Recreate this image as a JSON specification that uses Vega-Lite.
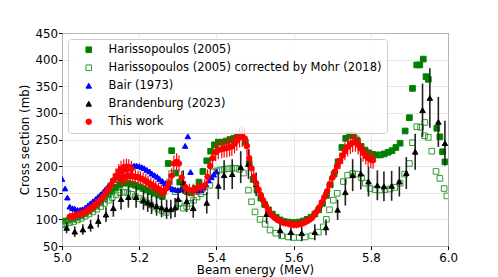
{
"$schema":"https://vega.github.io/schema/vega-lite/v6.json",
"width":386,"height":213,
"autosize":"none",
"padding":{"left":62,"top":33,"right":50,"bottom":31},
"config":{"font":"DejaVu Sans","view":{"stroke":"black","strokeWidth":1},
"axis":{"grid":true,"gridColor":"#e2e2e2","gridWidth":0.8,"domain":false,"tickColor":"black","tickSize":3.5,"labelFontSize":11.8,"labelColor":"black","titleFontSize":11.8,"titleFontWeight":"normal","titleColor":"black","labelPadding":1,"labelFlush":false}},
"data":{"values":[
{"series":"H","E":5.010,"sigma":97},{"series":"H","E":5.020,"sigma":99},{"series":"H","E":5.030,"sigma":101},{"series":"H","E":5.040,"sigma":104},{"series":"H","E":5.050,"sigma":107},{"series":"H","E":5.060,"sigma":111},{"series":"H","E":5.070,"sigma":116},{"series":"H","E":5.080,"sigma":121},{"series":"H","E":5.090,"sigma":126},{"series":"H","E":5.100,"sigma":132},{"series":"H","E":5.110,"sigma":139},{"series":"H","E":5.120,"sigma":146},{"series":"H","E":5.130,"sigma":153},{"series":"H","E":5.140,"sigma":160},{"series":"H","E":5.150,"sigma":165},{"series":"H","E":5.160,"sigma":168},{"series":"H","E":5.170,"sigma":168},{"series":"H","E":5.180,"sigma":166},{"series":"H","E":5.190,"sigma":164},{"series":"H","E":5.200,"sigma":161},{"series":"H","E":5.210,"sigma":158},{"series":"H","E":5.220,"sigma":155},{"series":"H","E":5.230,"sigma":152},{"series":"H","E":5.240,"sigma":149},{"series":"H","E":5.250,"sigma":146},{"series":"H","E":5.260,"sigma":143},{"series":"H","E":5.275,"sigma":205},{"series":"H","E":5.284,"sigma":229},{"series":"H","E":5.295,"sigma":187},{"series":"H","E":5.305,"sigma":170},{"series":"H","E":5.315,"sigma":160},{"series":"H","E":5.325,"sigma":152},{"series":"H","E":5.335,"sigma":150},{"series":"H","E":5.345,"sigma":158},{"series":"H","E":5.355,"sigma":170},{"series":"H","E":5.365,"sigma":190},{"series":"H","E":5.375,"sigma":210},{"series":"H","E":5.385,"sigma":228},{"series":"H","E":5.395,"sigma":240},{"series":"H","E":5.405,"sigma":245},{"series":"H","E":5.415,"sigma":245},{"series":"H","E":5.425,"sigma":247},{"series":"H","E":5.435,"sigma":250},{"series":"H","E":5.445,"sigma":252},{"series":"H","E":5.455,"sigma":254},{"series":"H","E":5.465,"sigma":257},{"series":"H","E":5.475,"sigma":245},{"series":"H","E":5.485,"sigma":205},{"series":"H","E":5.495,"sigma":175},{"series":"H","E":5.505,"sigma":155},{"series":"H","E":5.515,"sigma":140},{"series":"H","E":5.525,"sigma":128},{"series":"H","E":5.535,"sigma":118},{"series":"H","E":5.545,"sigma":110},{"series":"H","E":5.555,"sigma":104},{"series":"H","E":5.565,"sigma":99},{"series":"H","E":5.575,"sigma":96},{"series":"H","E":5.585,"sigma":95},{"series":"H","E":5.595,"sigma":94},{"series":"H","E":5.605,"sigma":94},{"series":"H","E":5.615,"sigma":95},{"series":"H","E":5.625,"sigma":97},{"series":"H","E":5.635,"sigma":100},{"series":"H","E":5.645,"sigma":104},{"series":"H","E":5.655,"sigma":110},{"series":"H","E":5.665,"sigma":118},{"series":"H","E":5.675,"sigma":130},{"series":"H","E":5.685,"sigma":145},{"series":"H","E":5.695,"sigma":165},{"series":"H","E":5.705,"sigma":185},{"series":"H","E":5.715,"sigma":208},{"series":"H","E":5.725,"sigma":235},{"series":"H","E":5.735,"sigma":252},{"series":"H","E":5.745,"sigma":258},{"series":"H","E":5.755,"sigma":257},{"series":"H","E":5.765,"sigma":248},{"series":"H","E":5.775,"sigma":237},{"series":"H","E":5.785,"sigma":230},{"series":"H","E":5.795,"sigma":225},{"series":"H","E":5.805,"sigma":222},{"series":"H","E":5.815,"sigma":221},{"series":"H","E":5.825,"sigma":221},{"series":"H","E":5.835,"sigma":223},{"series":"H","E":5.845,"sigma":226},{"series":"H","E":5.855,"sigma":229},{"series":"H","E":5.865,"sigma":235},{"series":"H","E":5.876,"sigma":243},{"series":"H","E":5.889,"sigma":266},{"series":"H","E":5.900,"sigma":291},{"series":"H","E":5.908,"sigma":346},{"series":"H","E":5.919,"sigma":390},{"series":"H","E":5.927,"sigma":390},{"series":"H","E":5.936,"sigma":401},{"series":"H","E":5.943,"sigma":368},{"series":"H","E":5.949,"sigma":363},{"series":"H","E":5.971,"sigma":271},{"series":"H","E":5.979,"sigma":255},{"series":"H","E":5.986,"sigma":227},{"series":"H","E":5.992,"sigma":208},
{"series":"HC","E":5.000,"sigma":90},{"series":"HC","E":5.010,"sigma":92},{"series":"HC","E":5.020,"sigma":94},{"series":"HC","E":5.030,"sigma":96},{"series":"HC","E":5.040,"sigma":99},{"series":"HC","E":5.050,"sigma":102},{"series":"HC","E":5.060,"sigma":106},{"series":"HC","E":5.070,"sigma":110},{"series":"HC","E":5.080,"sigma":114},{"series":"HC","E":5.090,"sigma":119},{"series":"HC","E":5.100,"sigma":124},{"series":"HC","E":5.110,"sigma":130},{"series":"HC","E":5.120,"sigma":136},{"series":"HC","E":5.130,"sigma":141},{"series":"HC","E":5.140,"sigma":146},{"series":"HC","E":5.150,"sigma":150},{"series":"HC","E":5.160,"sigma":151},{"series":"HC","E":5.170,"sigma":150},{"series":"HC","E":5.180,"sigma":147},{"series":"HC","E":5.190,"sigma":143},{"series":"HC","E":5.200,"sigma":139},{"series":"HC","E":5.210,"sigma":135},{"series":"HC","E":5.220,"sigma":131},{"series":"HC","E":5.230,"sigma":127},{"series":"HC","E":5.240,"sigma":123},{"series":"HC","E":5.250,"sigma":119},{"series":"HC","E":5.260,"sigma":116},{"series":"HC","E":5.270,"sigma":113},{"series":"HC","E":5.278,"sigma":170},{"series":"HC","E":5.284,"sigma":186},{"series":"HC","E":5.293,"sigma":152},{"series":"HC","E":5.304,"sigma":130},{"series":"HC","E":5.314,"sigma":121},{"series":"HC","E":5.323,"sigma":124},{"series":"HC","E":5.332,"sigma":130},{"series":"HC","E":5.341,"sigma":136},{"series":"HC","E":5.350,"sigma":142},{"series":"HC","E":5.360,"sigma":148},{"series":"HC","E":5.370,"sigma":152},{"series":"HC","E":5.383,"sigma":164},{"series":"HC","E":5.392,"sigma":189},{"series":"HC","E":5.401,"sigma":191},{"series":"HC","E":5.410,"sigma":193},{"series":"HC","E":5.420,"sigma":194},{"series":"HC","E":5.430,"sigma":195},{"series":"HC","E":5.440,"sigma":196},{"series":"HC","E":5.450,"sigma":196},{"series":"HC","E":5.460,"sigma":194},{"series":"HC","E":5.470,"sigma":187},{"series":"HC","E":5.483,"sigma":155},{"series":"HC","E":5.491,"sigma":133},{"series":"HC","E":5.500,"sigma":114},{"series":"HC","E":5.513,"sigma":100},{"series":"HC","E":5.526,"sigma":91},{"series":"HC","E":5.539,"sigma":80},{"series":"HC","E":5.554,"sigma":74},{"series":"HC","E":5.569,"sigma":69},{"series":"HC","E":5.586,"sigma":67},{"series":"HC","E":5.600,"sigma":66},{"series":"HC","E":5.615,"sigma":66},{"series":"HC","E":5.630,"sigma":67},{"series":"HC","E":5.647,"sigma":69},{"series":"HC","E":5.664,"sigma":76},{"series":"HC","E":5.677,"sigma":86},{"series":"HC","E":5.685,"sigma":100},{"series":"HC","E":5.693,"sigma":118},{"series":"HC","E":5.703,"sigma":136},{"series":"HC","E":5.713,"sigma":149},{"series":"HC","E":5.729,"sigma":171},{"series":"HC","E":5.740,"sigma":183},{"series":"HC","E":5.753,"sigma":186},{"series":"HC","E":5.766,"sigma":185},{"series":"HC","E":5.776,"sigma":178},{"series":"HC","E":5.786,"sigma":168},{"series":"HC","E":5.798,"sigma":158},{"series":"HC","E":5.811,"sigma":156},{"series":"HC","E":5.824,"sigma":155},{"series":"HC","E":5.837,"sigma":156},{"series":"HC","E":5.850,"sigma":157},{"series":"HC","E":5.862,"sigma":160},{"series":"HC","E":5.876,"sigma":168},{"series":"HC","E":5.888,"sigma":185},{"series":"HC","E":5.900,"sigma":205},{"series":"HC","E":5.908,"sigma":244},{"series":"HC","E":5.919,"sigma":274},{"series":"HC","E":5.929,"sigma":273},{"series":"HC","E":5.940,"sigma":282},{"series":"HC","E":5.939,"sigma":257},{"series":"HC","E":5.949,"sigma":254},{"series":"HC","E":5.958,"sigma":228},{"series":"HC","E":5.969,"sigma":190},{"series":"HC","E":5.979,"sigma":177},{"series":"HC","E":5.990,"sigma":158},{"series":"HC","E":5.997,"sigma":144},
{"series":"B","E":5.000,"sigma":176},{"series":"B","E":5.008,"sigma":158},{"series":"B","E":5.014,"sigma":141},{"series":"B","E":5.020,"sigma":124},{"series":"B","E":5.027,"sigma":121},{"series":"B","E":5.033,"sigma":120},{"series":"B","E":5.040,"sigma":118},{"series":"B","E":5.047,"sigma":118},{"series":"B","E":5.053,"sigma":119},{"series":"B","E":5.060,"sigma":122},{"series":"B","E":5.067,"sigma":126},{"series":"B","E":5.073,"sigma":130},{"series":"B","E":5.080,"sigma":134},{"series":"B","E":5.087,"sigma":138},{"series":"B","E":5.093,"sigma":142},{"series":"B","E":5.100,"sigma":147},{"series":"B","E":5.107,"sigma":152},{"series":"B","E":5.113,"sigma":157},{"series":"B","E":5.120,"sigma":163},{"series":"B","E":5.127,"sigma":168},{"series":"B","E":5.133,"sigma":174},{"series":"B","E":5.140,"sigma":180},{"series":"B","E":5.147,"sigma":186},{"series":"B","E":5.153,"sigma":191},{"series":"B","E":5.160,"sigma":195},{"series":"B","E":5.167,"sigma":197},{"series":"B","E":5.173,"sigma":199},{"series":"B","E":5.180,"sigma":200},{"series":"B","E":5.187,"sigma":201},{"series":"B","E":5.193,"sigma":201},{"series":"B","E":5.200,"sigma":200},{"series":"B","E":5.207,"sigma":198},{"series":"B","E":5.213,"sigma":196},{"series":"B","E":5.220,"sigma":193},{"series":"B","E":5.227,"sigma":190},{"series":"B","E":5.233,"sigma":186},{"series":"B","E":5.240,"sigma":183},{"series":"B","E":5.247,"sigma":180},{"series":"B","E":5.253,"sigma":176},{"series":"B","E":5.260,"sigma":172},{"series":"B","E":5.267,"sigma":168},{"series":"B","E":5.273,"sigma":164},{"series":"B","E":5.280,"sigma":160},{"series":"B","E":5.287,"sigma":157},{"series":"B","E":5.293,"sigma":156},{"series":"B","E":5.300,"sigma":155},{"series":"B","E":5.307,"sigma":156},{"series":"B","E":5.319,"sigma":238},{"series":"B","E":5.326,"sigma":256},{"series":"B","E":5.333,"sigma":189},{"series":"B","E":5.340,"sigma":157},{"series":"B","E":5.347,"sigma":155},{"series":"B","E":5.353,"sigma":154},{"series":"B","E":5.360,"sigma":155},{"series":"B","E":5.367,"sigma":160},{"series":"B","E":5.373,"sigma":166},{"series":"B","E":5.380,"sigma":173},{"series":"B","E":5.387,"sigma":179},{"series":"B","E":5.393,"sigma":184},{"series":"B","E":5.400,"sigma":190},
{"series":"Br","E":5.012,"sigma":84,"err":10},{"series":"Br","E":5.033,"sigma":77,"err":10},{"series":"Br","E":5.054,"sigma":81,"err":10},{"series":"Br","E":5.074,"sigma":88,"err":11},{"series":"Br","E":5.094,"sigma":97,"err":12},{"series":"Br","E":5.114,"sigma":109,"err":14},{"series":"Br","E":5.133,"sigma":121,"err":16},{"series":"Br","E":5.153,"sigma":138,"err":20},{"series":"Br","E":5.172,"sigma":142,"err":20},{"series":"Br","E":5.192,"sigma":142,"err":20},{"series":"Br","E":5.211,"sigma":136,"err":18},{"series":"Br","E":5.222,"sigma":132,"err":18},{"series":"Br","E":5.232,"sigma":128,"err":18},{"series":"Br","E":5.245,"sigma":125,"err":18},{"series":"Br","E":5.258,"sigma":122,"err":18},{"series":"Br","E":5.271,"sigma":119,"err":18},{"series":"Br","E":5.282,"sigma":119,"err":18},{"series":"Br","E":5.293,"sigma":122,"err":18},{"series":"Br","E":5.301,"sigma":138,"err":20},{"series":"Br","E":5.314,"sigma":170,"err":22},{"series":"Br","E":5.323,"sigma":134,"err":20},{"series":"Br","E":5.340,"sigma":121,"err":18},{"series":"Br","E":5.375,"sigma":131,"err":20},{"series":"Br","E":5.405,"sigma":163,"err":25},{"series":"Br","E":5.420,"sigma":183,"err":28},{"series":"Br","E":5.441,"sigma":185,"err":28},{"series":"Br","E":5.463,"sigma":198,"err":30},{"series":"Br","E":5.483,"sigma":204,"err":28},{"series":"Br","E":5.503,"sigma":166,"err":22},{"series":"Br","E":5.530,"sigma":110,"err":18},{"series":"Br","E":5.565,"sigma":80,"err":15},{"series":"Br","E":5.593,"sigma":76,"err":15},{"series":"Br","E":5.621,"sigma":74,"err":15},{"series":"Br","E":5.655,"sigma":76,"err":15},{"series":"Br","E":5.684,"sigma":85,"err":15},{"series":"Br","E":5.714,"sigma":118,"err":19},{"series":"Br","E":5.734,"sigma":151,"err":25},{"series":"Br","E":5.753,"sigma":183,"err":30},{"series":"Br","E":5.774,"sigma":186,"err":30},{"series":"Br","E":5.794,"sigma":171,"err":28},{"series":"Br","E":5.817,"sigma":164,"err":28},{"series":"Br","E":5.834,"sigma":162,"err":28},{"series":"Br","E":5.854,"sigma":163,"err":28},{"series":"Br","E":5.874,"sigma":171,"err":28},{"series":"Br","E":5.892,"sigma":187,"err":30},{"series":"Br","E":5.915,"sigma":227,"err":34},{"series":"Br","E":5.934,"sigma":305,"err":50},{"series":"Br","E":5.953,"sigma":328,"err":56},{"series":"Br","E":5.975,"sigma":283,"err":47},{"series":"Br","E":5.992,"sigma":243,"err":42},
{"series":"T","E":5.020,"sigma":105,"err":8},{"series":"T","E":5.027,"sigma":106,"err":8},{"series":"T","E":5.033,"sigma":107,"err":8},{"series":"T","E":5.040,"sigma":108,"err":8},{"series":"T","E":5.047,"sigma":110,"err":8},{"series":"T","E":5.053,"sigma":112,"err":8},{"series":"T","E":5.060,"sigma":114,"err":9},{"series":"T","E":5.067,"sigma":117,"err":9},{"series":"T","E":5.073,"sigma":120,"err":9},{"series":"T","E":5.080,"sigma":124,"err":9},{"series":"T","E":5.087,"sigma":128,"err":10},{"series":"T","E":5.093,"sigma":132,"err":10},{"series":"T","E":5.100,"sigma":137,"err":10},{"series":"T","E":5.107,"sigma":143,"err":11},{"series":"T","E":5.113,"sigma":150,"err":11},{"series":"T","E":5.120,"sigma":157,"err":12},{"series":"T","E":5.127,"sigma":165,"err":12},{"series":"T","E":5.133,"sigma":173,"err":13},{"series":"T","E":5.140,"sigma":182,"err":14},{"series":"T","E":5.147,"sigma":190,"err":14},{"series":"T","E":5.153,"sigma":195,"err":15},{"series":"T","E":5.160,"sigma":198,"err":15},{"series":"T","E":5.167,"sigma":199,"err":15},{"series":"T","E":5.173,"sigma":198,"err":15},{"series":"T","E":5.180,"sigma":195,"err":15},
{"series":"T","E":5.150,"sigma":176,"err":13},{"series":"T","E":5.157,"sigma":178,"err":13},{"series":"T","E":5.163,"sigma":180,"err":14},{"series":"T","E":5.170,"sigma":181,"err":14},{"series":"T","E":5.177,"sigma":181,"err":14},{"series":"T","E":5.183,"sigma":181,"err":14},{"series":"T","E":5.190,"sigma":180,"err":14},{"series":"T","E":5.197,"sigma":179,"err":13},{"series":"T","E":5.203,"sigma":177,"err":13},{"series":"T","E":5.210,"sigma":175,"err":13},{"series":"T","E":5.217,"sigma":172,"err":13},{"series":"T","E":5.223,"sigma":169,"err":13},{"series":"T","E":5.230,"sigma":166,"err":12},{"series":"T","E":5.237,"sigma":163,"err":12},{"series":"T","E":5.243,"sigma":160,"err":12},{"series":"T","E":5.250,"sigma":157,"err":12},{"series":"T","E":5.257,"sigma":154,"err":12},{"series":"T","E":5.263,"sigma":152,"err":11},
{"series":"T","E":5.270,"sigma":158,"err":12},{"series":"T","E":5.277,"sigma":168,"err":13},{"series":"T","E":5.284,"sigma":182,"err":14},{"series":"T","E":5.290,"sigma":205,"err":15},{"series":"T","E":5.297,"sigma":208,"err":16},{"series":"T","E":5.303,"sigma":205,"err":15},{"series":"T","E":5.310,"sigma":178,"err":13},{"series":"T","E":5.320,"sigma":160,"err":12},{"series":"T","E":5.330,"sigma":155,"err":12},{"series":"T","E":5.340,"sigma":155,"err":12},{"series":"T","E":5.350,"sigma":158,"err":12},{"series":"T","E":5.360,"sigma":161,"err":12},{"series":"T","E":5.370,"sigma":164,"err":12},{"series":"T","E":5.377,"sigma":180,"err":14},{"series":"T","E":5.384,"sigma":200,"err":15},{"series":"T","E":5.390,"sigma":215,"err":16},{"series":"T","E":5.398,"sigma":226,"err":17},{"series":"T","E":5.405,"sigma":230,"err":17},{"series":"T","E":5.414,"sigma":232,"err":17},{"series":"T","E":5.420,"sigma":233,"err":17},{"series":"T","E":5.427,"sigma":234,"err":18},{"series":"T","E":5.434,"sigma":236,"err":18},{"series":"T","E":5.440,"sigma":237,"err":18},{"series":"T","E":5.447,"sigma":242,"err":18},{"series":"T","E":5.453,"sigma":248,"err":19},{"series":"T","E":5.460,"sigma":254,"err":19},{"series":"T","E":5.467,"sigma":255,"err":19},{"series":"T","E":5.473,"sigma":252,"err":19},{"series":"T","E":5.479,"sigma":238,"err":18},{"series":"T","E":5.485,"sigma":215,"err":16},{"series":"T","E":5.491,"sigma":196,"err":15},{"series":"T","E":5.497,"sigma":180,"err":14},{"series":"T","E":5.503,"sigma":168,"err":13},{"series":"T","E":5.509,"sigma":156,"err":12},{"series":"T","E":5.515,"sigma":146,"err":11},{"series":"T","E":5.521,"sigma":136,"err":10},{"series":"T","E":5.528,"sigma":126,"err":9},{"series":"T","E":5.534,"sigma":118,"err":9},{"series":"T","E":5.540,"sigma":111,"err":8},{"series":"T","E":5.547,"sigma":106,"err":8},{"series":"T","E":5.553,"sigma":102,"err":8},{"series":"T","E":5.560,"sigma":99,"err":7},{"series":"T","E":5.567,"sigma":96,"err":7},{"series":"T","E":5.573,"sigma":94,"err":7},{"series":"T","E":5.580,"sigma":93,"err":7},{"series":"T","E":5.587,"sigma":92,"err":7},{"series":"T","E":5.593,"sigma":91,"err":7},{"series":"T","E":5.600,"sigma":90,"err":7},{"series":"T","E":5.607,"sigma":90,"err":7},{"series":"T","E":5.613,"sigma":91,"err":7},{"series":"T","E":5.620,"sigma":92,"err":7},{"series":"T","E":5.627,"sigma":94,"err":7},{"series":"T","E":5.633,"sigma":96,"err":7},{"series":"T","E":5.640,"sigma":99,"err":7},{"series":"T","E":5.647,"sigma":103,"err":8},{"series":"T","E":5.653,"sigma":108,"err":8},{"series":"T","E":5.660,"sigma":115,"err":9},{"series":"T","E":5.667,"sigma":123,"err":9},{"series":"T","E":5.673,"sigma":132,"err":10},{"series":"T","E":5.680,"sigma":142,"err":11},{"series":"T","E":5.687,"sigma":153,"err":11},{"series":"T","E":5.693,"sigma":165,"err":12},{"series":"T","E":5.700,"sigma":178,"err":13},{"series":"T","E":5.707,"sigma":190,"err":14},{"series":"T","E":5.713,"sigma":200,"err":15},{"series":"T","E":5.720,"sigma":210,"err":16},{"series":"T","E":5.727,"sigma":220,"err":16},{"series":"T","E":5.733,"sigma":228,"err":17},{"series":"T","E":5.740,"sigma":236,"err":18},{"series":"T","E":5.747,"sigma":241,"err":18},{"series":"T","E":5.753,"sigma":244,"err":18},{"series":"T","E":5.760,"sigma":245,"err":18},{"series":"T","E":5.767,"sigma":240,"err":18},{"series":"T","E":5.773,"sigma":233,"err":17},{"series":"T","E":5.780,"sigma":225,"err":17},{"series":"T","E":5.787,"sigma":219,"err":16},{"series":"T","E":5.793,"sigma":215,"err":16},{"series":"T","E":5.800,"sigma":212,"err":16},{"series":"T","E":5.806,"sigma":211,"err":16}
]},
"encoding":{
"x":{"field":"E","type":"quantitative","scale":{"domain":[5,6],"nice":false,"zero":false},"axis":{"values":[5,5.2,5.4,5.6,5.8,6],"format":".1f","title":"Beam energy (MeV)","titlePadding":1,"labelPadding":2.5}},
"y":{"field":"sigma","type":"quantitative","scale":{"domain":[50,450],"nice":false,"zero":false},"axis":{"values":[50,100,150,200,250,300,350,400,450],"title":"Cross section (mb)","titlePadding":4}}
},
"layer":[
{"transform":[{"filter":"datum.series=='H'||datum.series=='HC'||datum.series=='B'"}],
"mark":{"type":"point","clip":true,"strokeWidth":1,"opacity":1},
"encoding":{
"fill":{"field":"series","type":"nominal","scale":{"domain":["H","HC","B","Br","T"],"range":["#008000","transparent","#0000ff","#000000","#ff0000"]},"legend":{"title":null,"orient":"none","legendX":6,"legendY":6,"fillColor":"rgba(255,255,255,0.8)","strokeColor":"#cccccc","cornerRadius":3,"padding":5,"labelFontSize":11.5,"labelColor":"black","labelLimit":400,"symbolStrokeWidth":1,"rowPadding":5,"labelOffset":14,"symbolOffset":10,"labelExpr":"{'H':'Harissopoulos (2005)','HC':'Harissopoulos (2005) corrected by Mohr (2018)','B':'Bair (1973)','Br':'Brandenburg (2023)','T':'This work'}[datum.label]"}},
"stroke":{"field":"series","type":"nominal","scale":{"domain":["H","HC","B","Br","T"],"range":["#008000","#2e9a2e","#0000ff","#000000","#ff0000"]}},
"shape":{"field":"series","type":"nominal","scale":{"domain":["H","HC","B","Br","T"],"range":["square","square","triangle-up","triangle-up","circle"]}},
"size":{"field":"series","type":"nominal","scale":{"domain":["H","HC","B","Br","T"],"range":[32,30,44,44,28]}}
}},
{"transform":[{"filter":"datum.series=='Br'"}],
"mark":{"type":"errorbar","clip":true,"color":"#222222","thickness":1.6},
"encoding":{"y":{"field":"sigma","type":"quantitative"},"yError":{"field":"err"}}},
{"transform":[{"filter":"datum.series=='Br'"}],
"mark":{"type":"point","clip":true,"strokeWidth":1,"opacity":1},
"encoding":{
"fill":{"field":"series","type":"nominal"},
"stroke":{"field":"series","type":"nominal"},
"shape":{"field":"series","type":"nominal"},
"size":{"field":"series","type":"nominal"}}},
{"transform":[{"filter":"datum.series=='T'"}],
"mark":{"type":"errorbar","clip":true,"color":"#ff0000","thickness":1.2},
"encoding":{"y":{"field":"sigma","type":"quantitative"},"yError":{"field":"err"}}},
{"transform":[{"filter":"datum.series=='T'"}],
"mark":{"type":"point","clip":true,"strokeWidth":1,"opacity":1},
"encoding":{
"fill":{"field":"series","type":"nominal"},
"stroke":{"field":"series","type":"nominal"},
"shape":{"field":"series","type":"nominal"},
"size":{"field":"series","type":"nominal"}}}
]
}
